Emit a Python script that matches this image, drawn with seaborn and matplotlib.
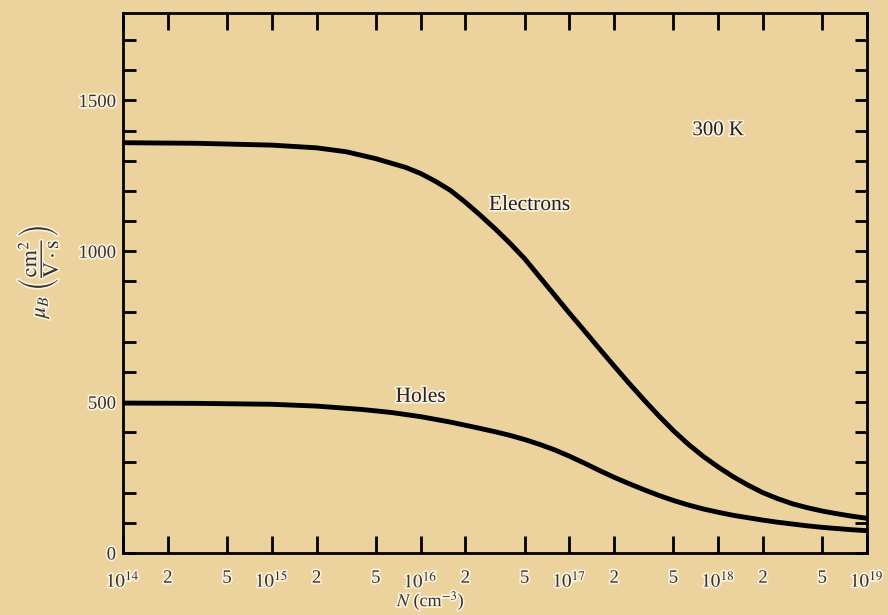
import numpy as np
import pandas as pd
import matplotlib
matplotlib.use('Agg')
import matplotlib.pyplot as plt
import matplotlib.patheffects as pe
import seaborn as sns
from matplotlib.ticker import FixedLocator, FixedFormatter, MultipleLocator

# valores (mobilidade no Si a 300 K), log10(N) e mu em cm2/V.s
logN_eletrons = [14.0, 14.5, 15.0, 15.3, 15.5, 15.7, 15.9, 16.0, 16.1, 16.2, 16.3,
                 16.4, 16.5, 16.6, 16.7, 16.8, 16.9, 17.0, 17.1, 17.2, 17.3, 17.4,
                 17.5, 17.6, 17.7, 17.8, 17.9, 18.0, 18.1, 18.2, 18.3, 18.4, 18.5,
                 18.6, 18.7, 18.8, 18.9, 19.0]
mu_eletrons = [1360, 1358, 1352, 1343, 1330, 1307, 1278, 1258, 1232, 1202, 1163,
               1120, 1075, 1027, 975, 915, 855, 795, 737, 678, 620, 563,
               508, 455, 405, 360, 320, 285, 253, 225, 200, 180, 163,
               150, 139, 130, 122, 115]

logN_lacunas = [14.0, 14.5, 15.0, 15.3, 15.6, 15.8, 16.0, 16.2, 16.4, 16.5, 16.6,
                16.7, 16.8, 16.9, 17.0, 17.1, 17.2, 17.3, 17.4, 17.5, 17.6, 17.7,
                17.8, 17.9, 18.0, 18.1, 18.2, 18.3, 18.4, 18.5, 18.6, 18.7, 18.8,
                18.9, 19.0]
mu_lacunas = [497, 496, 493, 487, 476, 466, 452, 434, 413, 402, 390,
              376, 360, 342, 321, 298, 274, 251, 230, 210, 191, 174,
              159, 146, 135, 125, 117, 109, 102, 96, 90, 85, 81,
              77, 74]

decadas = [14, 15, 16, 17, 18, 19]

fundo = '#ecd29c'
halo = [pe.withStroke(linewidth=2.5, foreground='#fbf1dc')]

sns.set_theme(style='ticks')
plt.rcParams['font.family'] = ['Liberation Serif', 'DejaVu Serif']
plt.rcParams['mathtext.fontset'] = 'stix'

df_e = pd.DataFrame({'N': 10.0 ** np.array(logN_eletrons), 'mu': mu_eletrons})
df_h = pd.DataFrame({'N': 10.0 ** np.array(logN_lacunas), 'mu': mu_lacunas})

fig = plt.figure(figsize=(8.88, 6.15), dpi=100, facecolor=fundo)
ax = fig.add_axes([0.1385, 0.1008, 0.8379, 0.8781])
ax.set_facecolor(fundo)
ax.set_xscale('log')

sns.lineplot(data=df_e, x='N', y='mu', color='black', lw=3.5, ax=ax, sort=True)
sns.lineplot(data=df_h, x='N', y='mu', color='black', lw=3.5, ax=ax, sort=True)

ax.set_xlim(1e14, 1e19)
ax.set_ylim(0, 1790)

# ticks do eixo x: 1, 2, 5 por década
pos = []
rot = []
for d in decadas:
    pos.append(10.0 ** d)
    rot.append(r'$10^{%d}$' % d)
    if d < decadas[-1]:
        pos += [2 * 10.0 ** d, 5 * 10.0 ** d]
        rot += ['2', '5']
ax.xaxis.set_major_locator(FixedLocator(pos))
ax.xaxis.set_major_formatter(FixedFormatter(rot))
ax.xaxis.set_minor_locator(FixedLocator([]))

ax.yaxis.set_major_locator(FixedLocator([0, 500, 1000, 1500]))
ax.yaxis.set_minor_locator(MultipleLocator(100))

ax.tick_params(axis='both', which='both', direction='in', top=True, right=True,
               width=2, color='black', labelsize=13.5, labelcolor='#333333')
ax.tick_params(axis='x', which='major', length=12, pad=12)
ax.tick_params(axis='y', which='major', length=9, pad=5)
ax.tick_params(axis='y', which='minor', length=9)
for s in ax.spines.values():
    s.set_linewidth(2)
    s.set_color('black')
for t in ax.get_xticklabels() + ax.get_yticklabels():
    t.set_path_effects(halo)

ax.set_xlabel(r'$N$ (cm$^{-3}$)', fontsize=13, color='#333333', path_effects=halo)
ax.xaxis.set_label_coords(0.414, -0.068)
ax.set_ylabel(r'$\mu_B\ \left(\dfrac{\mathrm{cm}^2}{\mathrm{V\cdot s}}\right)$',
              fontsize=16, color='#333333', path_effects=halo)
ax.yaxis.set_label_coords(-0.085, 0.52)

ax.text(1e18, 1400, '300 K', fontsize=15, color='#222222', ha='center', va='center',
        path_effects=halo)
ax.text(5.4e16, 1152, 'Electrons', fontsize=15.5, color='#222222', ha='center',
        va='center', path_effects=halo)
ax.text(1e16, 516, 'Holes', fontsize=15.5, color='#222222', ha='center', va='center',
        path_effects=halo)

fig.savefig('out.png', dpi=100, facecolor=fundo)
